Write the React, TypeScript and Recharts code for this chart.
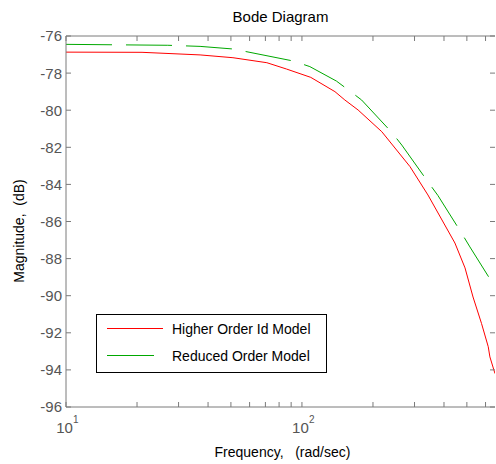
import { ComposedChart, Line, XAxis, YAxis } from 'recharts'

// frequency (rad/sec) and magnitude (dB)
const higherFreq = [10, 21, 37, 51, 71, 86, 109, 138, 152, 173, 218, 287, 342, 445, 491, 531, 577, 616, 626, 658]
const higherMag = [-76.87, -76.88, -77.02, -77.17, -77.44, -77.78, -78.23, -79.0, -79.45, -79.99, -81.16, -83.04, -84.57, -87.16, -88.5, -90.07, -91.5, -92.75, -93.3, -94.2]

const reducedFreq = [10, 27, 37, 51, 92, 108, 140, 157, 179, 240, 265, 342, 377, 475, 515, 658]
const reducedMag = [-76.45, -76.5, -76.56, -76.7, -77.35, -77.65, -78.43, -78.9, -79.45, -81.19, -81.88, -83.86, -84.6, -86.63, -87.37, -89.53]

const xTicks = [10, 20, 30, 40, 50, 60, 70, 80, 90, 100, 200, 300, 400, 500, 600]
const yTicks = [-96, -94, -92, -90, -88, -86, -84, -82, -80, -78, -76]

const RED = '#ff0000'
const GREEN = '#00a800'
const AXIS = '#7a7a7a'
const FONT = '"Liberation Sans", Arial, sans-serif'

const higherData = higherFreq.map((f, i) => ({ f, m: higherMag[i] }))
const reducedData = reducedFreq.map((f, i) => ({ f, m: reducedMag[i] }))

const BottomTick = (props: any) => {
  const { x, y, payload } = props
  const v = payload.value
  const decade = v === 10 || v === 100
  return (
    <g>
      <line x1={x} x2={x} y1={y} y2={y - 5} stroke={AXIS} />
      {decade && (
        <text x={x - 1.5} y={y + 26} textAnchor="middle" fontSize={15} fill="#555" fontFamily={FONT}>
          10
        </text>
      )}
      {decade && (
        <text x={x + 7} y={y + 16} fontSize={10} fill="#555" fontFamily={FONT}>
          {v === 10 ? '1' : '2'}
        </text>
      )}
    </g>
  )
}

const TopTick = (props: any) => {
  const { x, y } = props
  return <line x1={x} x2={x} y1={y} y2={y + 5} stroke={AXIS} />
}

const LeftTick = (props: any) => {
  const { x, y, payload } = props
  return (
    <g>
      <line x1={x} x2={x + 5} y1={y} y2={y} stroke={AXIS} />
      <text x={x - 4} y={y} dy="0.36em" textAnchor="end" fontSize={15} fill="#555" fontFamily={FONT}>
        {payload.value}
      </text>
    </g>
  )
}

const RightTick = (props: any) => {
  const { x, y } = props
  return <line x1={x} x2={x - 5} y1={y} y2={y} stroke={AXIS} />
}

const LegendBox = () => (
  <svg width={232} height={60} style={{ position: 'absolute', left: 96, top: 314, display: 'block' }}>
    <rect x={0.5} y={0.5} width={230} height={58} fill="#fff" stroke="#000" />
    <line x1={11} x2={67} y1={14.5} y2={14.5} stroke={RED} />
    <text x={76} y={19.5} fontSize={14} fontFamily={FONT} fill="#000">Higher Order Id Model</text>
    <line x1={11} x2={58} y1={41.5} y2={41.5} stroke={GREEN} />
    <text x={76} y={46.5} fontSize={14} fontFamily={FONT} fill="#000">Reduced Order Model</text>
  </svg>
)

export default function App() {
  return (
    <div style={{ position: 'absolute', left: 0, top: 0, width: 496, height: 464, background: '#fff', fontFamily: FONT }}>
      <ComposedChart width={496} height={464} margin={{ top: 35, right: 0, bottom: 56, left: 65 }}>
        <XAxis
          xAxisId="b"
          dataKey="f"
          type="number"
          scale="log"
          domain={[10, 658]}
          allowDataOverflow
          ticks={xTicks}
          interval={0}
          height={1}
          tickSize={0}
          tickMargin={0}
          tickLine={false}
          axisLine={{ stroke: AXIS }}
          tick={<BottomTick />}
          label={{
            content: (p: any) => (
              <text x={p.viewBox.x + p.viewBox.width / 2 + 2} y={457} textAnchor="middle" fontSize={14} fontFamily={FONT} fill="#000" style={{ whiteSpace: 'pre' }}>
                {'Frequency,   (rad/sec)'}
              </text>
            ),
          }}
        />
        <XAxis
          xAxisId="t"
          orientation="top"
          dataKey="f"
          type="number"
          scale="log"
          domain={[10, 658]}
          allowDataOverflow
          ticks={xTicks}
          interval={0}
          height={1}
          tickSize={0}
          tickMargin={0}
          tickLine={false}
          axisLine={{ stroke: AXIS }}
          tick={<TopTick />}
          label={{
            content: (p: any) => (
              <text x={p.viewBox.x + p.viewBox.width / 2} y={22} textAnchor="middle" fontSize={15} fontFamily={FONT} fill="#000">
                Bode Diagram
              </text>
            ),
          }}
        />
        <YAxis
          yAxisId="l"
          type="number"
          domain={[-96, -76]}
          allowDataOverflow
          ticks={yTicks}
          interval={0}
          width={1}
          tickSize={0}
          tickMargin={0}
          tickLine={false}
          axisLine={{ stroke: AXIS }}
          tick={<LeftTick />}
          label={{
            content: () => (
              <text x={24} y={231} transform="rotate(-90, 24, 231)" textAnchor="middle" fontSize={14} fontFamily={FONT} fill="#000" style={{ whiteSpace: 'pre' }}>
                {'Magnitude,  (dB)'}
              </text>
            ),
          }}
        />
        <YAxis
          yAxisId="r"
          orientation="right"
          type="number"
          domain={[-96, -76]}
          allowDataOverflow
          ticks={yTicks}
          interval={0}
          width={1}
          tickSize={0}
          tickMargin={0}
          tickLine={false}
          axisLine={false}
          tick={<RightTick />}
        />
        <Line
          xAxisId="b"
          yAxisId="l"
          data={higherData}
          dataKey="m"
          name="Higher Order Id Model"
          type="linear"
          stroke={RED}
          strokeWidth={1}
          dot={false}
          isAnimationActive={false}
        />
        <Line
          xAxisId="b"
          yAxisId="l"
          data={reducedData}
          dataKey="m"
          name="Reduced Order Model"
          type="linear"
          stroke={GREEN}
          strokeWidth={1}
          strokeDasharray="46 14"
          dot={false}
          isAnimationActive={false}
        />
      </ComposedChart>
      <LegendBox />
    </div>
  )
}
